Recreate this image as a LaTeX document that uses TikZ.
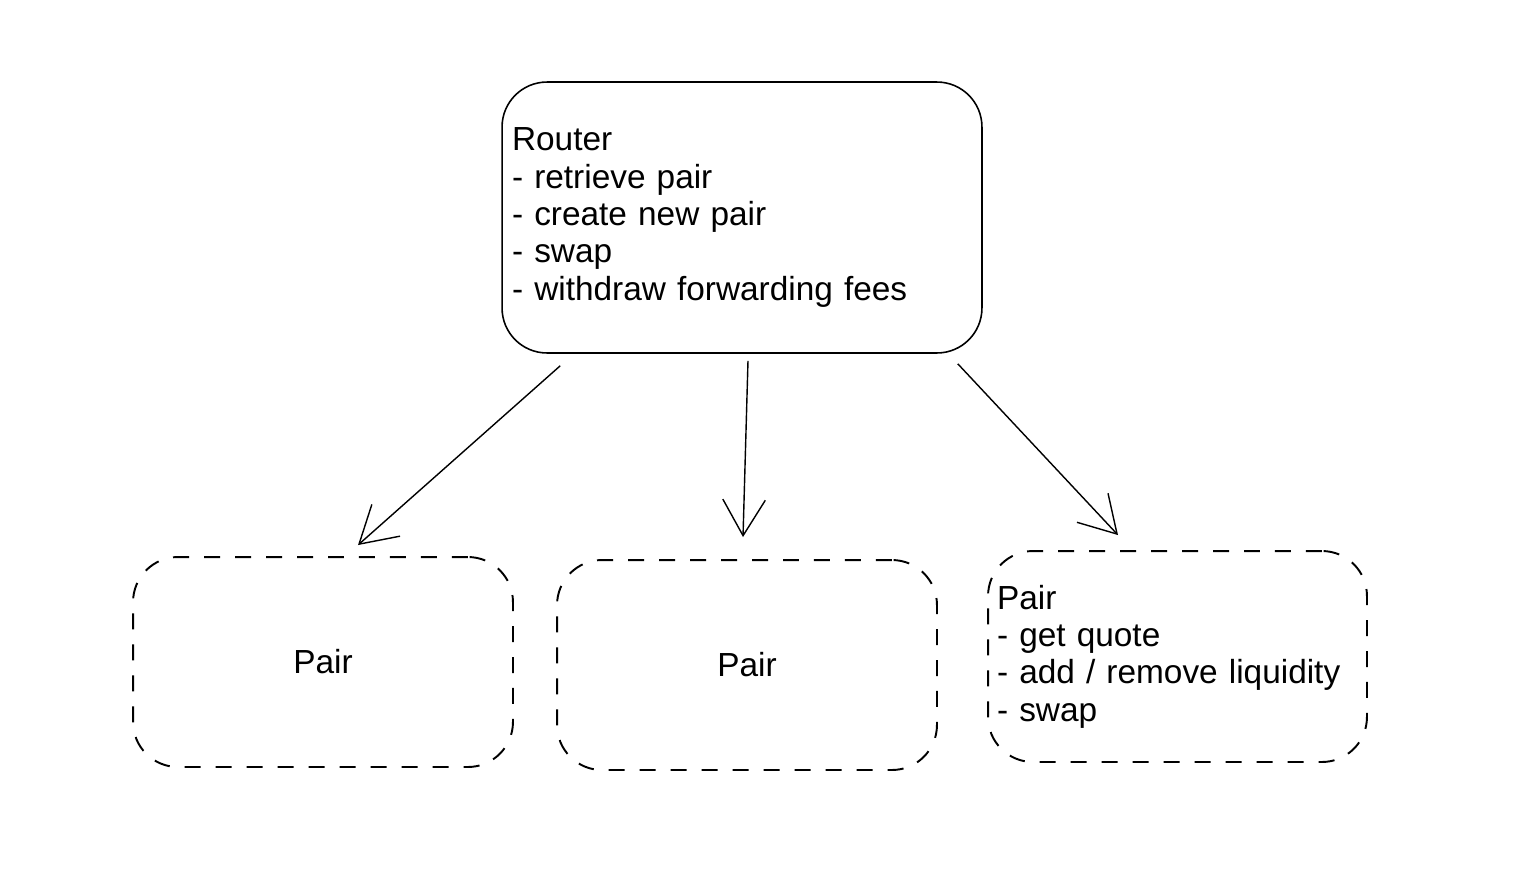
\documentclass[tikz,border=0pt]{standalone}
\usepackage{fontspec}
\setmainfont{Liberation Sans}
\usetikzlibrary{arrows.meta}

\begin{document}
\begin{tikzpicture}[x=0.02cm, y=-0.02cm]
    \useasboundingbox (0,0) rectangle (1528,870);
    \tikzset{
        box/.style={draw, line width=0.9pt, rounded corners=0.9cm, font=\fontsize{19}{21.3}\selectfont},
        pairbox/.style={box, dash pattern=on 0.32cm off 0.3cm, line width=1.1pt},
        arr/.style={-{Straight Barb[length=0.72cm, width=0.85cm, line width=0.8pt]}, line width=0.8pt}
    }

    \node[box, align=left, text width=9.2cm, inner xsep=0.2cm, minimum height=5.42cm] (router) at (742,217.5) {Router\\- retrieve pair\\- create new pair\\- swap\\- withdraw forwarding fees};

    \node[pairbox, minimum width=7.6cm, minimum height=4.2cm] (pairA) at (323,662) {Pair};
    \node[pairbox, minimum width=7.6cm, minimum height=4.2cm] (pairB) at (747,665) {Pair};
    \node[pairbox, align=left, text width=7.22cm, inner xsep=0.18cm, minimum height=4.22cm] (pairC) at (1177.5,656.5) {Pair\\- get quote\\- add / remove liquidity\\- swap};

    \draw[arr] ([xshift=1.18cm, yshift=-0.24cm]router.south west) -- ([xshift=0.7cm, yshift=0.22cm]pairA.north);
    \draw[arr] ([xshift=0.12cm, yshift=-0.14cm]router.south) -- ([xshift=-0.08cm, yshift=0.44cm]pairB.north);
    \draw[arr] ([xshift=-0.5cm, yshift=-0.2cm]router.south east) -- ([xshift=-1.19cm, yshift=0.3cm]pairC.north);
\end{tikzpicture}
\end{document}
